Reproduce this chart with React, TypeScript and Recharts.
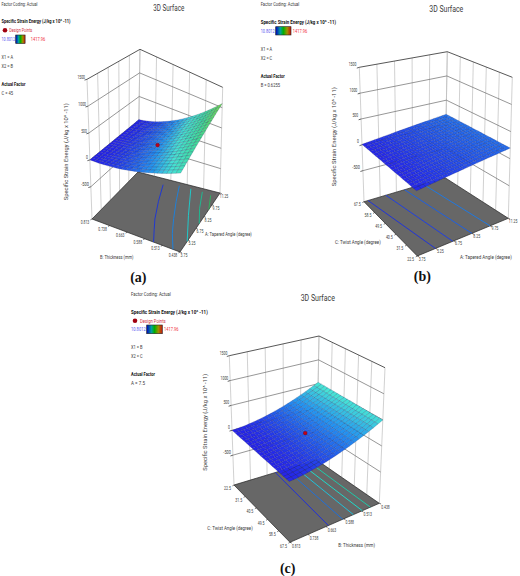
import React from "react";
import { ScatterChart, Scatter, XAxis, YAxis } from "recharts";

const W = 520, H = 576;
const FLOOR_Z = -1100, TOP_Z = 1500;
const zTicks = ["1500", "1000", "500", "0", "-500"];
const thicknessLabels = ["0.813", "0.738", "0.663", "0.588", "0.513", "0.438"];
const thicknessLabelsRev = thicknessLabels;
const taperLabels = ["3.75", "5.25", "6.75", "8.25", "9.75", "11.25"];
const twistDown = ["67.5", "58.5", "49.5", "40.5", "31.5", "22.5"];
const twistUp = ["22.5", "31.5", "40.5", "49.5", "58.5", "67.5"];
const legendTitle = "Specific Strain Energy (J/kg x 10^ -11)";

const surfaceA = [
[0,1,1,2,2,3,3,4,4,5,5,6,6,7,7,8,8,9,9,10,10],
[7,8,9,9,10,11,12,13,13,14,15,16,17,17,18,19,20,21,21,22,23],
[17,18,19,21,22,23,24,25,27,28,29,30,31,33,34,35,36,37,39,40,41],
[29,31,32,34,36,37,39,41,42,44,46,47,49,50,52,54,55,57,59,60,62],
[44,46,48,51,53,55,57,59,62,64,66,68,70,73,75,77,79,81,84,86,88],
[61,64,67,70,73,76,78,81,84,87,90,93,96,99,102,105,107,110,113,116,119],
[81,85,88,92,96,99,103,107,110,114,118,121,125,128,132,136,139,143,147,150,154],
[102,107,111,116,120,125,129,134,138,143,148,152,157,161,166,170,175,179,184,188,193],
[127,133,138,144,149,155,160,166,171,177,182,188,193,199,204,210,215,221,226,232,237],
[154,161,167,174,180,187,193,200,206,213,220,226,233,239,246,252,259,265,272,278,285],
[183,191,198,206,214,222,229,237,245,252,260,268,275,283,291,299,306,314,322,329,337],
[215,224,233,242,251,260,269,278,287,296,305,313,322,331,340,349,358,367,376,385,394],
[249,259,270,280,290,301,311,321,331,342,352,362,373,383,393,404,414,424,434,445,455],
[285,297,309,320,332,344,356,367,379,391,403,414,426,438,450,461,473,485,497,508,520],
[325,338,352,365,378,391,405,418,431,444,458,471,484,497,511,524,537,550,564,577,590],
[366,381,396,411,426,441,455,470,485,500,515,530,545,560,575,590,604,619,634,649,664],
[410,427,443,460,476,493,510,526,543,559,576,593,609,626,642,659,676,692,709,725,742],
[456,474,493,511,530,548,567,585,604,622,641,659,677,696,714,733,751,770,788,807,825],
[505,525,546,566,587,607,627,648,668,689,709,729,750,770,791,811,831,852,872,893,913],
[556,578,601,623,646,668,690,713,735,758,780,802,825,847,870,892,914,937,959,982,1004],
[610,635,659,684,708,733,757,782,806,831,855,880,904,929,953,978,1002,1027,1051,1076,1100],
];
const surfaceB = [
[10,20,30,40,50,60,70,80,90,100,110,120,130,140,150,160,170,180,190,200,210],
[10,20,30,40,50,60,70,80,90,100,110,119,129,139,149,159,169,179,189,199,209],
[11,21,31,41,51,61,70,80,90,100,110,120,130,140,150,160,169,179,189,199,209],
[11,21,31,41,50,60,70,80,90,100,110,119,129,139,149,159,169,178,188,198,208],
[11,21,31,40,50,60,70,80,89,99,109,119,129,138,148,158,168,178,187,197,207],
[11,21,31,40,50,60,70,79,89,99,109,118,128,138,148,157,167,177,187,196,206],
[12,22,31,41,51,60,70,80,90,99,109,119,128,138,148,157,167,177,187,196,206],
[12,22,31,41,51,60,70,80,89,99,109,118,128,137,147,157,166,176,186,195,205],
[12,22,31,41,50,60,70,79,89,98,108,118,127,137,146,156,166,175,185,194,204],
[12,22,31,41,50,60,69,79,88,98,108,117,127,136,146,155,165,174,184,193,203],
[13,23,32,42,51,61,70,80,89,99,108,118,127,137,146,156,165,175,184,194,203],
[13,22,32,41,51,60,70,79,89,98,108,117,126,136,145,155,164,174,183,193,202],
[13,22,32,41,51,60,69,79,88,98,107,116,126,135,145,154,163,173,182,192,201],
[13,22,32,41,50,60,69,78,88,97,107,116,125,135,144,153,163,172,181,191,200],
[14,23,33,42,51,61,70,79,88,98,107,116,126,135,144,154,163,172,181,191,200],
[14,23,33,42,51,60,70,79,88,97,107,116,125,134,144,153,162,171,181,190,199],
[14,23,32,42,51,60,69,78,88,97,106,115,124,134,143,152,161,170,180,189,198],
[14,23,32,41,51,60,69,78,87,96,106,115,124,133,142,151,160,170,179,188,197],
[15,24,33,42,51,61,70,79,88,97,106,115,124,133,142,152,161,170,179,188,197],
[15,24,33,42,51,60,69,78,87,96,106,115,124,133,142,151,160,169,178,187,196],
[15,24,33,42,51,60,69,78,87,96,105,114,123,132,141,150,159,168,177,186,195],
];
const surfaceC = [
[0,6,15,25,38,53,70,89,110,134,159,187,216,248,282,318,356,396,439,483,530],
[1,6,15,25,38,53,70,89,110,134,159,187,216,248,281,317,355,395,438,482,528],
[1,7,16,26,39,54,70,89,110,134,159,186,215,247,281,316,354,394,436,480,527],
[2,7,16,26,39,54,71,89,110,134,159,186,215,246,280,316,353,393,435,479,525],
[2,8,17,27,39,54,71,90,110,134,158,186,214,246,279,315,352,392,434,477,523],
[3,8,17,27,40,55,71,90,110,134,158,186,214,245,279,314,351,390,433,476,522],
[3,9,18,27,40,55,71,90,110,134,158,185,214,245,278,313,350,389,431,474,520],
[4,9,18,28,40,55,72,90,110,134,158,185,213,244,278,312,349,388,430,473,518],
[4,10,19,28,41,55,72,90,110,134,158,185,213,244,277,312,348,387,429,471,517],
[5,10,19,29,41,56,72,90,110,134,158,185,213,243,276,311,348,386,427,470,515],
[5,11,19,29,42,56,72,90,111,134,158,184,212,243,276,310,347,385,426,468,514],
[6,11,20,29,42,56,72,91,111,134,157,184,212,242,275,309,346,384,425,467,512],
[6,12,20,30,42,56,73,91,111,134,157,184,211,242,274,309,345,383,424,465,510],
[7,12,21,30,43,57,73,91,111,133,157,184,211,241,274,308,344,382,422,464,509],
[7,13,21,31,43,57,73,91,111,133,157,183,211,241,273,307,343,380,421,463,507],
[8,13,22,31,43,57,73,91,111,133,157,183,210,240,272,306,342,379,420,461,505],
[8,14,22,31,44,58,73,91,111,133,157,183,210,240,272,305,341,378,419,460,504],
[9,14,22,32,44,58,74,91,111,133,156,183,210,239,271,305,340,377,417,458,502],
[9,14,23,32,44,58,74,92,111,133,156,182,209,239,270,304,339,376,416,457,500],
[10,15,23,33,45,58,74,92,111,133,156,182,209,238,270,303,338,375,415,455,499],
[10,15,24,33,45,59,74,92,111,133,156,182,208,238,269,302,337,374,413,454,497],
];
// contour lines on the floor, as [along-left-edge, along-back-edge] factor fractions
const contoursA = [
  [[0.70, 0], [0.62, 0.18], [0.55, 0.34], [0.45, 0.62], [0.36, 0.9]],
  [[0.92, 0], [0.81, 0.22], [0.72, 0.44], [0.62, 0.7], [0.53, 0.95]],
  [[1, 0.18], [0.84, 0.55], [0.67, 0.95]],
  [[1, 0.48], [0.9, 0.7], [0.81, 0.95]],
  [[1, 0.72], [0.92, 0.93]],
];
const contoursB = [
  [[0, 0.05], [1, 0.2]],
  [[0, 0.27], [1, 0.39]],
  [[0, 0.5], [1, 0.6]],
  [[0, 0.73], [1, 0.8]],
];
const contoursC = [
  [[0, 0.5], [1, 0.43]],
  [[0, 0.63], [1, 0.59]],
  [[0, 0.73], [1, 0.71]],
  [[0, 0.82], [1, 0.81]],
  [[0, 0.91], [1, 0.9]],
];
const designA = { u: 0.5, v: 0.5, z: 262 };
const designC = { u: 0.5, v: 0.5, z: 165 };

type Pt = number[];
const lerp = (a: Pt, b: Pt, t: number) => [a[0] + (b[0] - a[0]) * t, a[1] + (b[1] - a[1]) * t];
const bil = (q: Pt[], u: number, v: number) => lerp(lerp(q[0], q[1], u), lerp(q[2], q[3], u), v);

const ramp = [
  [0, 38, 34, 232], [150, 36, 92, 234], [300, 36, 150, 240], [500, 70, 226, 214],
  [800, 62, 220, 150], [1100, 116, 216, 72],
];
const colorOf = (z: number) => {
  for (let i = 1; i < ramp.length; i++) {
    if (z <= ramp[i][0]) {
      const t = Math.max(0, (z - ramp[i - 1][0]) / (ramp[i][0] - ramp[i - 1][0]));
      const c = [1, 2, 3].map((k) => Math.round(ramp[i - 1][k] + (ramp[i][k] - ramp[i - 1][k]) * t));
      return `rgb(${c.join(",")})`;
    }
  }
  return "rgb(116,216,72)";
};

const mark = (pts: Pt[], fill: string, stroke: string, sw: number, closed = true) => ({
  x: pts[0][0], y: pts[0][1], pts, fill, stroke, sw, closed,
});

const Shape = (p: any) => {
  const d = p.payload;
  const dx = p.cx - d.x, dy = p.cy - d.y;
  const s = d.pts.map((q: Pt) => `${(q[0] + dx).toFixed(2)},${(q[1] + dy).toFixed(2)}`).join(" ");
  return d.closed ? (
    <polygon points={s} fill={d.fill} stroke={d.stroke} strokeWidth={d.sw} strokeLinejoin="round" />
  ) : (
    <polyline points={s} fill="none" stroke={d.stroke} strokeWidth={d.sw} />
  );
};
const Dot = (p: any) => <circle cx={p.cx} cy={p.cy} r={1.9} fill="#c00018" stroke="#700010" strokeWidth={0.4} />;

const P: any = {
  a: {
    floor: [[92, 219], [180, 252], [138, 172], [220, 193]],
    top: [[87, 79.3], [181, 132], [140, 49.3], [222.7, 87.3]],
    z: surfaceA, contours: contoursA, design: designA,
    colors: ["#2038d0", "#1f80d8", "#20c8c8", "#20b890", "#30b060"],
    leftLabels: thicknessLabels, rightLabels: taperLabels,
    leftOff: [-7, 3.5], rightOff: [4, 3.5], zOff: -2, zOffY: -2,
    txt: {
      x: 1.5, code: [3.5, 36], title: [21, 69], bar: [39, 15.7, 9.4, 8.5], barY: 35, lo: 13.5, hiX: 30.7,
      dot: [5, 30.3, 9.3, 23], x1: ["X1 = A", 57], x2: ["X2 = B", 66.3], af: 84.3, factor: ["C = 45", 93.3, 11.5],
      head: [153.3, 31, 8.3], leftT: ["B: Thickness  (mm)", 100, 33.3, 257.3], rightT: ["A: Tapered Angle (degree)", 205, 46.7, 234.3],
      zT: [65.7, 151.7, 97], tag: ["(a)", 138.3, 277.7],
    },
  },
  b: {
    floor: [[364, 201.7], [417.3, 256], [445, 177.7], [508.3, 218.3]],
    top: [[359.3, 67.3], [415.5, 104], [447.3, 51.7], [512.3, 77.3]],
    z: surfaceB, contours: contoursB, design: null,
    colors: ["#2034d8", "#2040e0", "#2060e0", "#2078e0"],
    leftLabels: twistDown, rightLabels: taperLabels,
    leftOff: [-6.7, 3.2], rightOff: [4.8, 3], zOff: -3, zOffY: -3,
    txt: {
      x: 260.7, code: [3.7, 38.6], title: [21.7, 75.3], bar: [30.7, 275.7, 15.3, 8.3], barY: 26.7, lo: 14, hiX: 292.7,
      dot: null, x1: ["X1 = A", 48.7], x2: ["X2 = C", 57.7], af: 76.3, factor: ["B = 0.6255", 85.3, 19.3],
      head: [429.3, 34, 8.7], leftT: ["C: Twist Angle (degree)", 335, 45.7, 241.7], rightT: ["A: Tapered Angle (degree)", 460, 51.7, 257],
      zT: [334, 136.7, 99], tag: ["(b)", 422.3, 276.7],
    },
  },
  c: {
    floor: [[234, 485], [290, 542.3], [316.7, 460], [379.3, 503.3]],
    top: [[229.3, 355.7], [288.5, 400], [319, 336], [385, 367.7]],
    z: surfaceC, contours: contoursC, design: designC,
    colors: ["#2030d8", "#2070d8", "#20c0d8", "#20d8c8", "#20c8a8"],
    leftLabels: twistUp, rightLabels: thicknessLabelsRev.slice(),
    leftOff: [-6.5, 3.8], rightOff: [6.2, 3.7], zOff: -2, zOffY: -2.5,
    txt: {
      x: 131, code: [294, 39.7], title: [311.7, 76.7], bar: [329.3, 146.7, 15.6, 8.7], barY: 325, lo: 14.7, hiX: 164,
      dot: [135, 320.7, 140, 25.7], x1: ["X1 = B", 347], x2: ["X2 = C", 356], af: 373.7, factor: ["A = 7.5", 382.7, 14],
      head: [300.7, 34.3, 298.3], leftT: ["C: Twist Angle (degree)", 207.3, 45.4, 528], rightT: ["B: Thickness  (mm)", 338.3, 36.7, 545],
      zT: [205, 422.3, 97], tag: ["(c)", 287.7, 568.7],
    },
  },
};

const frac = (z: number) => (z - FLOOR_Z) / (TOP_Z - FLOOR_Z);
const proj = (p: any, u: number, v: number, z: number) => lerp(bil(p.floor, u, v), bil(p.top, u, v), frac(z));

const buildWalls = (p: any) => {
  const out: any[] = [];
  for (let i = 0; i <= 5; i++) {
    const t = i / 5;
    out.push(mark([proj(p, 0, t, FLOOR_Z), proj(p, 0, t, TOP_Z)], "none", "#bdbdbd", 0.7, false));
    out.push(mark([proj(p, t, 1, FLOOR_Z), proj(p, t, 1, TOP_Z)], "none", "#bdbdbd", 0.7, false));
  }
  zTicks.forEach((s) => {
    const z = Number(s);
    const top = z === TOP_Z;
    const a = proj(p, 0, 0, z), b = proj(p, 0, 1, z), c = proj(p, 1, 1, z);
    out.push(mark([a, b, c], "none", top ? "#444444" : "#6a6a6a", top ? 0.9 : 0.7, false));
    out.push(mark([[a[0] - 2.5, a[1] + 0.8], a], "none", "#222222", 0.7, false));
  });
  return out;
};
const buildFloor = (p: any) => {
  const f = p.floor;
  const out: any[] = [mark([f[0], f[1], f[3], f[2]], "#676767", "#222222", 0.7)];
  for (let i = 0; i <= 5; i++) {
    const a = bil(f, i / 5, 0), b = bil(f, 1, i / 5);
    out.push(mark([a, [a[0] - 1.6, a[1] + 0.9]], "none", "#222222", 0.6, false));
    out.push(mark([b, [b[0] + 1.8, b[1] + 0.7]], "none", "#222222", 0.6, false));
  }
  return out;
};
const buildContours = (p: any) =>
  p.contours.map((c: Pt[], i: number) =>
    mark(c.map((q) => bil(p.floor, q[0], q[1])), "none", p.colors[i], 1, false)
  );
const buildCells = (p: any) => {
  const out: any[] = [];
  const n = p.z.length - 1;
  for (let i = 0; i < n; i++) {
    for (let j = n - 1; j >= 0; j--) {
      const za = p.z[i][j], zb = p.z[i + 1][j], zc = p.z[i + 1][j + 1], zd = p.z[i][j + 1];
      const pts = [
        proj(p, i / n, j / n, za), proj(p, (i + 1) / n, j / n, zb),
        proj(p, (i + 1) / n, (j + 1) / n, zc), proj(p, i / n, (j + 1) / n, zd),
      ];
      out.push(mark(pts, colorOf((za + zb + zc + zd) / 4), "rgba(16,16,70,0.6)", 0.28));
    }
  }
  return out;
};
const buildDesign = (p: any) => {
  if (!p.design) return [];
  const q = proj(p, p.design.u, p.design.v, p.design.z);
  return [{ x: q[0], y: q[1] }];
};

const FONT = "'Liberation Sans Narrow', Roboto, 'Liberation Sans', sans-serif";
const T = ({ x, y, w, s = 5.4, bold, fill = "#3a3a3a", anchor = "start", children, rotate }: any) => (
  <text
    x={x} y={y} fontSize={s} fontFamily={FONT} fontWeight={bold ? 700 : 400} fill={fill}
    textAnchor={anchor} dominantBaseline="central" textLength={w} lengthAdjust="spacingAndGlyphs"
    transform={rotate ? `rotate(${rotate} ${x} ${y})` : undefined}
  >
    {children}
  </text>
);

const panelText = (key: string) => {
  const p = P[key], t = p.txt;
  const out: any[] = [];
  const k = (n: string | number) => `${key}-${n}`;
  out.push(<T key={k("code")} x={t.x} y={t.code[0]} w={t.code[1]}>Factor Coding: Actual</T>);
  out.push(<T key={k("title")} x={t.x} y={t.title[0]} w={t.title[1]} bold fill="#111">{legendTitle}</T>);
  if (t.dot) {
    out.push(<circle key={k("dot")} cx={t.dot[0]} cy={t.dot[1]} r={2.3} fill="#a00010" />);
    out.push(<T key={k("dp")} x={t.dot[2]} y={t.dot[1]} w={t.dot[3]} fill="#d03040">Design Points</T>);
  }
  out.push(<T key={k("lo")} x={t.x} y={t.bar[0]} w={t.lo} fill="#5a5af0">10.8012</T>);
  out.push(<rect key={k("bar")} x={t.bar[1]} y={t.barY} width={t.bar[2]} height={t.bar[3]} fill="url(#legendRamp)" stroke="#222" strokeWidth={0.6} />);
  out.push(<T key={k("hi")} x={t.hiX} y={t.bar[0]} w={14.5} fill="#f03040">1417.96</T>);
  out.push(<T key={k("x1")} x={t.x} y={t.x1[1]} w={11.5}>{t.x1[0]}</T>);
  out.push(<T key={k("x2")} x={t.x} y={t.x2[1]} w={11.5}>{t.x2[0]}</T>);
  out.push(<T key={k("af")} x={t.x} y={t.af} w={24} bold fill="#111">Actual Factor</T>);
  out.push(<T key={k("fac")} x={t.x} y={t.factor[1]} w={t.factor[2]}>{t.factor[0]}</T>);
  out.push(<T key={k("head")} x={t.head[0]} y={t.head[2]} w={t.head[1]} s={9}>3D Surface</T>);
  out.push(<T key={k("lt")} x={t.leftT[1]} y={t.leftT[3]} w={t.leftT[2]} s={5.2}>{t.leftT[0]}</T>);
  out.push(<T key={k("rt")} x={t.rightT[1]} y={t.rightT[3]} w={t.rightT[2]} s={5.2}>{t.rightT[0]}</T>);
  out.push(
    <T key={k("zt")} x={t.zT[0]} y={t.zT[1]} w={t.zT[2]} s={5.6} anchor="middle" rotate={-90}>{legendTitle}</T>
  );
  zTicks.forEach((s) => {
    const q = proj(p, 0, 0, Number(s));
    out.push(
      <T key={k("z" + s)} x={q[0] + p.zOff} y={q[1] + p.zOffY} w={s.length * 1.9} s={4.8} anchor="end">{s}</T>
    );
  });
  p.leftLabels.forEach((s: string, i: number) => {
    const q = bil(p.floor, i / 5, 0);
    out.push(
      <T key={k("l" + i)} x={q[0] + p.leftOff[0]} y={q[1] + p.leftOff[1]} w={s.length * 1.7} s={4.6} anchor="middle">{s}</T>
    );
  });
  p.rightLabels.forEach((s: string, i: number) => {
    const q = bil(p.floor, 1, i / 5);
    out.push(
      <T key={k("r" + i)} x={q[0] + p.rightOff[0]} y={q[1] + p.rightOff[1]} w={s.length * 1.7} s={4.6} anchor="middle">{s}</T>
    );
  });
  out.push(
    <text key={k("tag")} x={t.tag[1]} y={t.tag[2]} fontSize={14} fontWeight={700} fontFamily="'Liberation Serif', serif"
      fill="#111" textAnchor="middle" dominantBaseline="central">{t.tag[0]}</text>
  );
  return out;
};

const keys = ["a", "b", "c"];

export default function App() {
  return (
    <div style={{ position: "absolute", left: 0, top: 0, width: W, height: H, background: "#fff" }}>
      <ScatterChart width={W} height={H} margin={{ top: 0, right: 0, bottom: 0, left: 0 }}>
        <XAxis type="number" dataKey="x" domain={[0, W]} hide />
        <YAxis type="number" dataKey="y" domain={[0, H]} reversed hide />
        <defs>
          <linearGradient id="legendRamp" x1="0" x2="1" y1="0" y2="0">
            <stop offset="0" stopColor="#0000b8" />
            <stop offset="0.3" stopColor="#00a0a0" />
            <stop offset="0.5" stopColor="#00b000" />
            <stop offset="0.75" stopColor="#a09000" />
            <stop offset="1" stopColor="#c81010" />
          </linearGradient>
        </defs>
        {keys.flatMap((k) => [
          <Scatter key={k + "w"} name={k + " walls"} data={buildWalls(P[k])} shape={Shape} isAnimationActive={false} />,
          <Scatter key={k + "f"} name={k + " floor"} data={buildFloor(P[k])} shape={Shape} isAnimationActive={false} />,
          <Scatter key={k + "c"} name={k + " contours"} data={buildContours(P[k])} shape={Shape} isAnimationActive={false} />,
          <Scatter key={k + "s"} name={k + " surface"} data={buildCells(P[k])} shape={Shape} isAnimationActive={false} />,
          <Scatter key={k + "d"} name={k + " design"} data={buildDesign(P[k])} shape={Dot} isAnimationActive={false} />,
        ])}
        {keys.flatMap(panelText)}
      </ScatterChart>
    </div>
  );
}
